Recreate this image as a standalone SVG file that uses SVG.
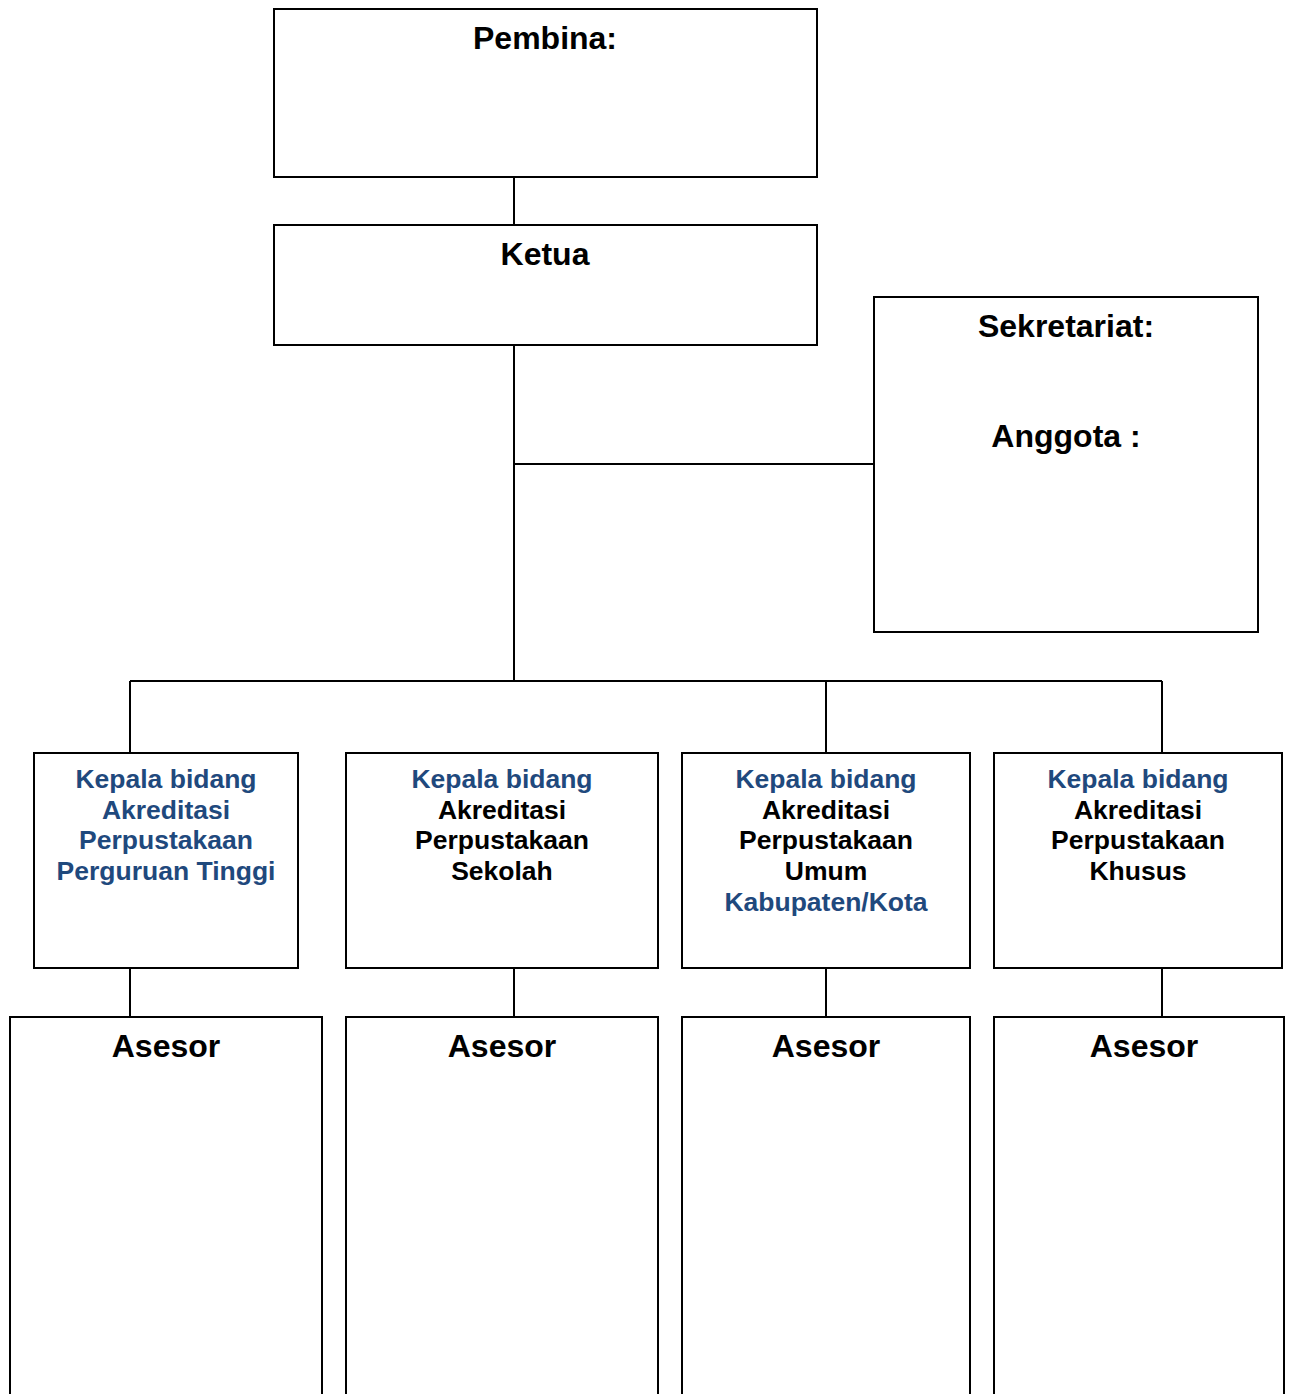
<svg xmlns="http://www.w3.org/2000/svg" width="1291" height="1394" viewBox="0 0 1291 1394">
<style>
.box{fill:#fff;stroke:#000;stroke-width:2}
.ln{stroke:#000;stroke-width:2;fill:none}
text{font-family:"Liberation Sans",Arial,sans-serif;font-weight:bold;text-anchor:middle;fill:#000}
.t{font-size:32px}
.k{font-size:26.5px}
.b{fill:#1F497D}
</style>
<rect width="1291" height="1394" fill="#fff"/>
<g id="connectors">
<path class="ln" d="M514 177V225M514 345V681M514 464H874M130 681H1162M130 681V753M826 681V753M1162 681V753M130 968V1017M514 968V1017M826 968V1017M1162 968V1017"/>
</g>
<g id="pembina"><rect class="box" x="274" y="9" width="543" height="168"/><text class="t" x="545" y="49">Pembina:</text></g>
<g id="ketua"><rect class="box" x="274" y="225" width="543" height="120"/><text class="t" x="545" y="265">Ketua</text></g>
<g id="sekretariat"><rect class="box" x="874" y="297" width="384" height="335"/><text class="t" x="1066" y="337">Sekretariat:</text><text class="t" x="1066" y="447">Anggota :</text></g>
<g id="kepala1"><rect class="box" x="34" y="753" width="264" height="215"/>
<text class="k b" x="166" y="788">Kepala bidang</text><text class="k b" x="166" y="819">Akreditasi</text><text class="k b" x="166" y="849">Perpustakaan</text><text class="k b" x="166" y="880">Perguruan Tinggi</text></g>
<g id="kepala2"><rect class="box" x="346" y="753" width="312" height="215"/>
<text class="k b" x="502" y="788">Kepala bidang</text><text class="k" x="502" y="819">Akreditasi</text><text class="k" x="502" y="849">Perpustakaan</text><text class="k" x="502" y="880">Sekolah</text></g>
<g id="kepala3"><rect class="box" x="682" y="753" width="288" height="215"/>
<text class="k b" x="826" y="788">Kepala bidang</text><text class="k" x="826" y="819">Akreditasi</text><text class="k" x="826" y="849">Perpustakaan</text><text class="k" x="826" y="880">Umum</text><text class="k b" x="826" y="911">Kabupaten/Kota</text></g>
<g id="kepala4"><rect class="box" x="994" y="753" width="288" height="215"/>
<text class="k b" x="1138" y="788">Kepala bidang</text><text class="k" x="1138" y="819">Akreditasi</text><text class="k" x="1138" y="849">Perpustakaan</text><text class="k" x="1138" y="880">Khusus</text></g>
<g id="asesor1"><rect class="box" x="10" y="1017" width="312" height="400"/><text class="t" x="166" y="1057">Asesor</text></g>
<g id="asesor2"><rect class="box" x="346" y="1017" width="312" height="400"/><text class="t" x="502" y="1057">Asesor</text></g>
<g id="asesor3"><rect class="box" x="682" y="1017" width="288" height="400"/><text class="t" x="826" y="1057">Asesor</text></g>
<g id="asesor4"><rect class="box" x="994" y="1017" width="290" height="400"/><text class="t" x="1144" y="1057">Asesor</text></g>
</svg>
